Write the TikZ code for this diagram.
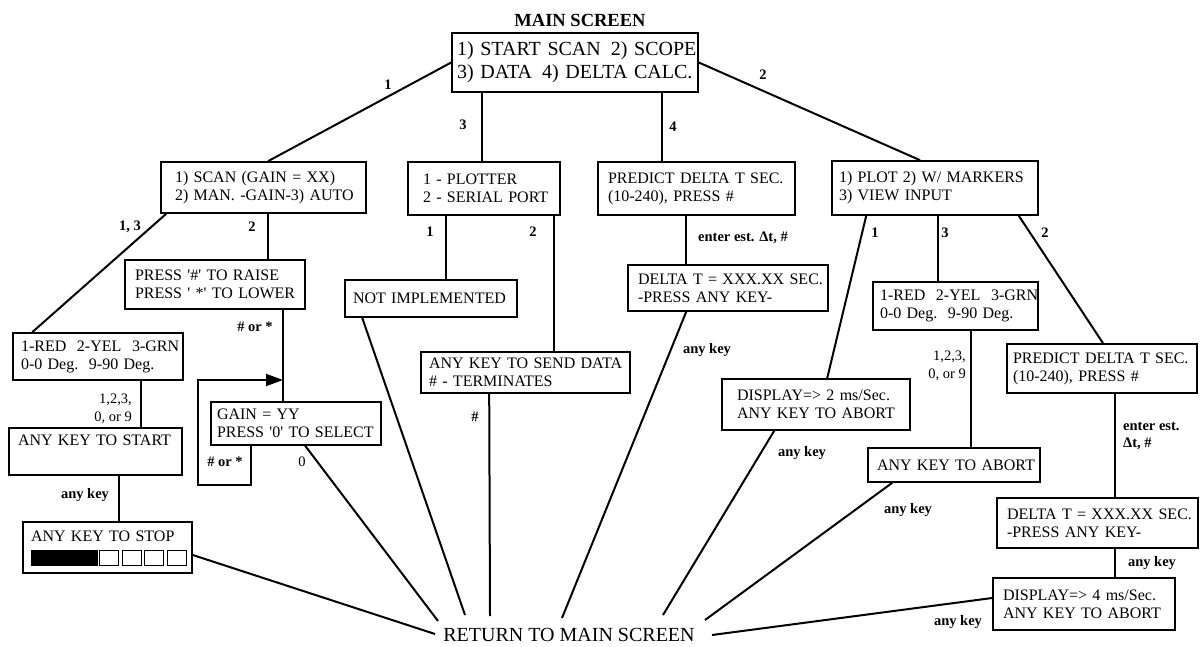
\documentclass[tikz,border=0pt]{standalone}
\usepackage{fontspec}
\setmainfont{Liberation Serif}
\usetikzlibrary{arrows.meta}
\newcommand\bxf{\fontsize{16}{18}\selectfont}
\newcommand\mnf{\fontsize{20}{23}\selectfont}
\newcommand\lbf{\fontsize{14.5}{17}\selectfont\bfseries}
\newcommand\lrf{\fontsize{14.5}{18}\selectfont}
\begin{document}
\begin{tikzpicture}[x=1pt,y=-1pt,
  bx/.style n args={4}{draw, line width=1.6pt, minimum width=#1, minimum height=#2,
     inner xsep=#3, inner ysep=0pt, text width=#4, align=left, font=\bxf},
  conn/.style={line width=2pt},
  lb/.style={font=\lbf, inner sep=1pt},
  lr/.style={font=\lrf, inner sep=1pt}]
\useasboundingbox (0,0) rectangle (1201,647);

% title and bottom target
\node[font=\fontsize{18.5}{20}\selectfont\bfseries] (title) at (580,20) {MAIN SCREEN};
\node[font=\mnf, inner sep=0pt] (ret) at (569,635) {RETURN TO MAIN SCREEN};

% boxes
\node[bx={246pt}{59pt}{5pt}{236pt}, font=\mnf] (main) at (575,62.5)
  {\mbox{1) START SCAN\ \,2) SCOPE}\\\mbox{3) DATA\ \,4) DELTA CALC.}};
\node[bx={205pt}{51pt}{14pt}{177pt}] (scan) at (263.5,187.5)
  {\mbox{1) SCAN (GAIN = XX)}\\\mbox{2) MAN. -GAIN-3) AUTO}};
\node[bx={152pt}{53pt}{15pt}{122pt}] (plotter) at (484,188.5)
  {\mbox{1 - PLOTTER}\\\mbox{2 - SERIAL PORT}};
\node[bx={197pt}{53pt}{10pt}{177pt}] (predict) at (696.5,188.5)
  {\mbox{PREDICT DELTA T SEC.}\\\mbox{(10-240), PRESS \#}};
\node[bx={206pt}{54pt}{7pt}{192pt}] (plot) at (935,188)
  {\mbox{1) PLOT 2) W/ MARKERS}\\\mbox{3) VIEW INPUT}};
\node[bx={180pt}{49pt}{10pt}{160pt}] (press) at (215,284.5)
  {\mbox{PRESS \textquotesingle\#\textquotesingle\ TO RAISE}\\\mbox{PRESS \textquotesingle\ *\textquotesingle\ TO LOWER}};
\node[bx={170pt}{47pt}{8pt}{154pt}] (redL) at (98,356.5)
  {\mbox{1-RED\ \ 2-YEL\ \ 3-GRN}\\\mbox{0-0 Deg.\ \ 9-90 Deg.}};
\node[bx={173pt}{47pt}{9pt}{155pt}] (start) at (95.5,451.5)
  {\mbox{ANY KEY TO START}\\\strut};
\node[bx={169pt}{51pt}{8pt}{153pt}] (stop) at (107.5,547.5)
  {\mbox{ANY KEY TO STOP}\\\strut};
\node[bx={170pt}{43pt}{6pt}{158pt}] (gain) at (296,423.5)
  {\mbox{GAIN = YY}\\\mbox{PRESS \textquotesingle0\textquotesingle\ TO SELECT}};
\node[bx={172pt}{37pt}{8pt}{156pt}] (notimpl) at (431,298.5)
  {\mbox{NOT IMPLEMENTED}};
\node[bx={209pt}{41pt}{8pt}{193pt}] (send) at (525.5,372.5)
  {\mbox{ANY KEY TO SEND DATA}\\\mbox{\# - TERMINATES}};
\node[bx={200pt}{46pt}{10pt}{180pt}] (deltaC) at (728,288)
  {\mbox{DELTA T = XXX.XX SEC.}\\\mbox{-PRESS ANY KEY-}};
\node[bx={188pt}{51pt}{15pt}{158pt}] (disp2) at (816,404.5)
  {\mbox{DISPLAY=> 2 ms/Sec.}\\\mbox{ANY KEY TO ABORT}};
\node[bx={165pt}{48pt}{7pt}{151pt}] (redR) at (955.5,306)
  {\mbox{1-RED\ \ 2-YEL\ \ 3-GRN}\\\mbox{0-0 Deg.\ \ 9-90 Deg.}};
\node[bx={172pt}{34pt}{9pt}{154pt}] (abort) at (954,465)
  {\mbox{ANY KEY TO ABORT}};
\node[bx={190pt}{49pt}{6pt}{178pt}] (predR) at (1102,368.5)
  {\mbox{PREDICT DELTA T SEC.}\\\mbox{(10-240), PRESS \#}};
\node[bx={201pt}{50pt}{10pt}{181pt}] (deltaR) at (1097.5,523)
  {\mbox{DELTA T = XXX.XX SEC.}\\\mbox{-PRESS ANY KEY-}};
\node[bx={182pt}{52pt}{10pt}{162pt}] (disp4) at (1084,604)
  {\mbox{DISPLAY=> 4 ms/Sec.}\\\mbox{ANY KEY TO ABORT}};

% progress squares in the STOP box
\fill (31,549.5) rectangle (97.5,565.5);
\foreach \i in {3,...,6} { \draw[line width=1pt] (32+22.5*\i,550) rectangle ++(19,15); }

% connectors
\draw[conn] (main.west) -- ([xshift=4.5pt]scan.north);
\draw[conn] (main.east) -- ([xshift=-15pt]plot.north);
\draw[conn] ([xshift=-2pt]plotter.north |- main.south) -- ([xshift=-2pt]plotter.north);
\draw[conn] ([xshift=-34.5pt]predict.north |- main.south) -- ([xshift=-34.5pt]predict.north);
\draw[conn] ([xshift=6pt]scan.south west) -- ([xshift=20pt]redL.north west);
\draw[conn] ([xshift=4pt]scan.south) -- ([xshift=4pt]scan.south |- press.north);
\draw[conn] ([xshift=68pt]press.south) -- ([xshift=68pt]press.south |- gain.north);
\coordinate (arr) at (283,380);
\draw[conn, -{Triangle[length=17pt,width=12pt]}] ([xshift=41pt]gain.south west) -- ++(0,39) -- ++(-53,0) |- (arr);
\draw[conn] ([xshift=129pt]redL.south west) -- ([xshift=129pt]redL.south west |- start.north);
\draw[conn] ([xshift=111pt]start.south west) -- ([xshift=111pt]start.south west |- stop.north);
\draw[conn] ([xshift=39pt]plotter.south west) -- ([xshift=39pt]plotter.south west |- notimpl.north);
\draw[conn] ([xshift=-7pt]plotter.south east) -- ([xshift=-7pt]plotter.south east |- send.north);
\draw[conn] ([xshift=-10.5pt]predict.south) -- ([xshift=-10.5pt]predict.south |- deltaC.north);
\draw[conn] ([xshift=35pt]plot.south west) -- ([xshift=106pt]disp2.north west);
\draw[conn] ([xshift=3pt]plot.south) -- ([xshift=3pt]plot.south |- redR.north);
\draw[conn] ([xshift=-20pt]plot.south east) -- ([xshift=1pt]predR.north);
\draw[conn] ([xshift=99pt]redR.south west) -- ([xshift=99pt]redR.south west |- abort.north);
\draw[conn] ([xshift=13pt]predR.south) -- ([xshift=13pt]predR.south |- deltaR.north);
\draw[conn] ([xshift=17.5pt]deltaR.south) -- ([xshift=17.5pt]deltaR.south |- disp4.north);

% lines into RETURN TO MAIN SCREEN
\coordinate (r1) at (435,634);
\coordinate (r2) at (438,621);
\coordinate (r3) at (465,615);
\coordinate (r4) at (490,616);
\coordinate (r5) at (562,618);
\coordinate (r6) at (663,615);
\coordinate (r7) at (705,620);
\coordinate (r8) at (712,635);
\draw[conn] ([yshift=-7.5pt]stop.east) -- (r1);
\draw[conn] ([xshift=95pt]gain.south west) -- (r2);
\draw[conn] ([xshift=18pt]notimpl.south west) -- (r3);
\draw[conn] ([xshift=69pt]send.south west) -- (r4);
\draw[conn] ([xshift=59pt]deltaC.south west) -- (r5);
\draw[conn] ([xshift=53pt]disp2.south west) -- (r6);
\draw[conn] ([xshift=25pt]abort.south west) -- (r7);
\draw[conn] ([yshift=6pt]disp4.west) -- (r8);

% labels
\node[lb] (la1) at (388,85) {1};
\node[lb] (la2) at (763,75) {2};
\node[lb] (la3) at (463,125) {3};
\node[lb] (la4) at (673,127) {4};
\node[lb] (lb13) at (130,227) {1, 3};
\node[lb] (lb2) at (252,227) {2};
\node[lb] (lbho) at (255,327) {\# or *};
\node[lr, align=right, anchor=east] (lbk1) at (133,409) {1,2,3,\\0, or 9};
\node[lb] (lbak1) at (85,495) {any key};
\node[lb] (lbho2) at (225,462) {\# or *};
\node[lr] (lb0) at (302,462) {0};
\node[lb] (lc1) at (430,232) {1};
\node[lb] (lc2) at (533,232) {2};
\node[lb] (lch) at (475,417) {\#};
\node[lb, anchor=west] (lde) at (697,238) {enter est. Δt, \#};
\node[lb] (ldak) at (707,350) {any key};
\node[lb] (le1) at (875,233) {1};
\node[lb] (le3) at (945,233) {3};
\node[lb] (le2) at (1045,233) {2};
\node[lr, align=right, anchor=east] (lek) at (967,366) {1,2,3,\\0, or 9};
\node[lb] (leak1) at (802,453) {any key};
\node[lb] (leak2) at (908,510) {any key};
\node[lb, align=left, anchor=west] (lee) at (1122,436) {enter est.\\Δt, \#};
\node[lb] (leak3) at (1152,563) {any key};
\node[lb] (leak4) at (958,622) {any key};
\end{tikzpicture}
\end{document}
